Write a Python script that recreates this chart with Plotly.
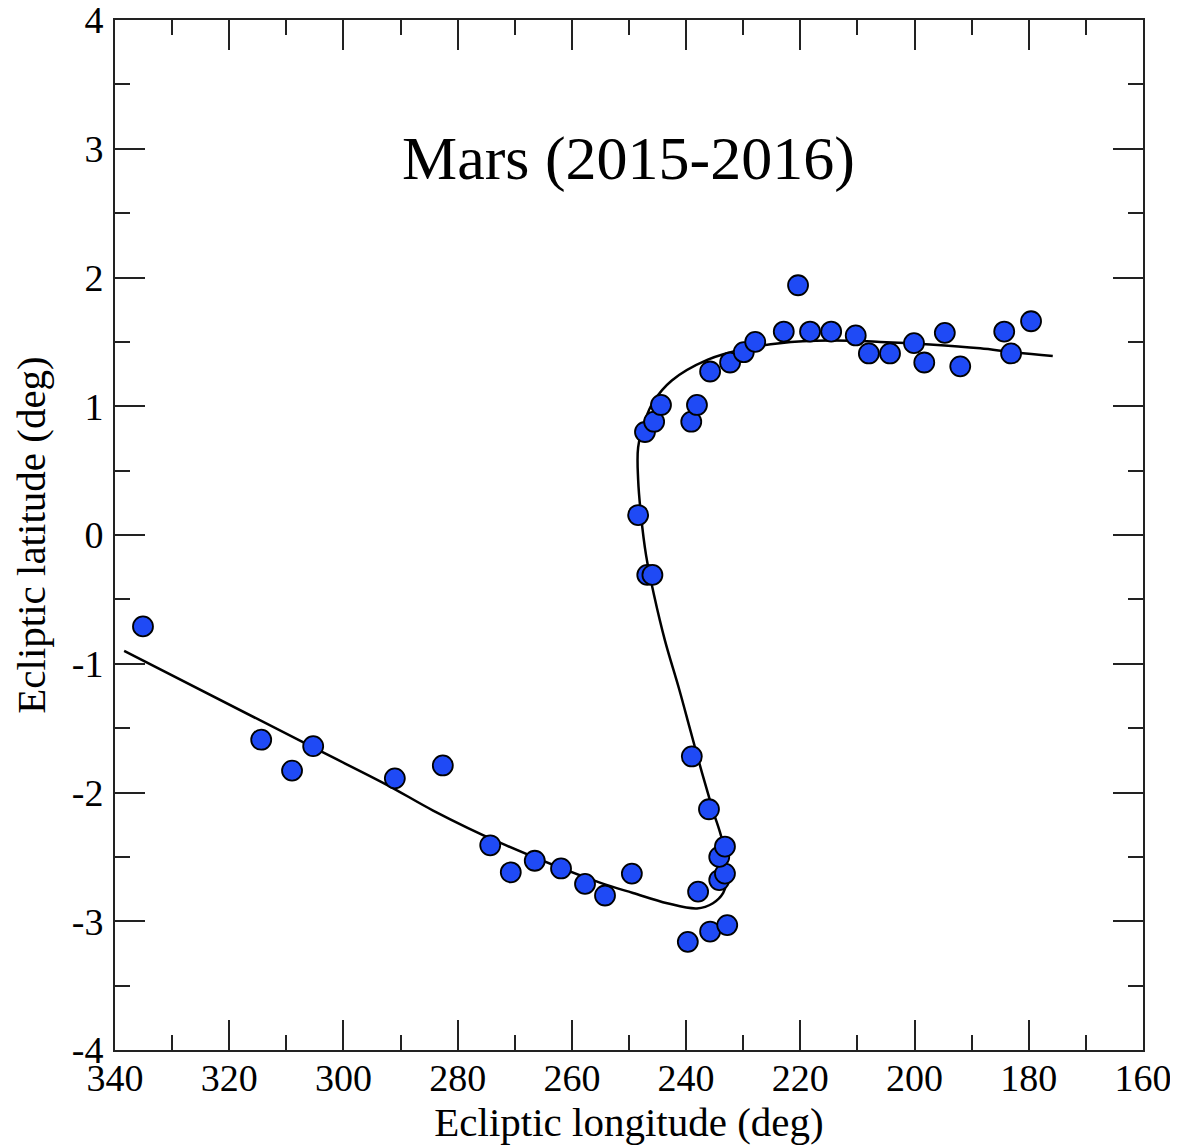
import plotly.graph_objects as go

# Observed positions (deg)
obs_lon = [335.1, 314.4, 309.0, 305.3, 291.0, 282.6, 274.3, 270.7, 266.5, 261.9,
           257.7, 254.2, 249.5, 237.9, 239.7, 235.8, 232.8, 234.2, 233.2, 234.2,
           233.2, 236.0, 239.0, 246.8, 245.9, 248.4, 247.2, 245.6, 244.4, 239.1,
           238.1, 235.8, 232.3, 229.9, 227.9, 222.9, 220.4, 218.3, 214.6, 210.3,
           208.0, 204.3, 200.1, 198.3, 194.7, 192.0, 184.3, 183.1, 179.6]
obs_lat = [-0.71, -1.59, -1.83, -1.64, -1.89, -1.79, -2.41, -2.62, -2.53, -2.59,
           -2.71, -2.80, -2.63, -2.77, -3.16, -3.08, -3.03, -2.68, -2.63, -2.50,
           -2.42, -2.13, -1.72, -0.31, -0.31, 0.155, 0.80, 0.88, 1.01, 0.88,
           1.01, 1.27, 1.34, 1.42, 1.50, 1.58, 1.94, 1.58, 1.58, 1.55,
           1.41, 1.41, 1.49, 1.34, 1.57, 1.31, 1.58, 1.41, 1.66]

# Model track (deg)
fit_lon = [338.4, 305.3, 292.4, 284.3, 272.6, 255.1, 249.3, 243.3, 238.1, 235.3,
           233.5, 233.0, 233.2, 233.7, 235.3, 237.2, 239.3, 241.2, 243.7, 245.6,
           247.0, 247.9, 248.4, 248.4, 247.2, 245.8, 242.5, 236.3, 229.3, 223.6,
           214.8, 206.0, 197.3, 188.5, 182.8, 175.8]
fit_lat = [-0.90, -1.65, -1.94, -2.14, -2.39, -2.70, -2.78, -2.86, -2.90, -2.86,
           -2.78, -2.70, -2.55, -2.37, -2.14, -1.85, -1.51, -1.20, -0.82, -0.47,
           -0.16, 0.155, 0.43, 0.68, 0.89, 1.03, 1.20, 1.36, 1.45, 1.49,
           1.51, 1.50, 1.48, 1.45, 1.42, 1.39]

x_ticks = [340, 320, 300, 280, 260, 240, 220, 200, 180, 160]
y_ticks = [4, 3, 2, 1, 0, -1, -2, -3, -4]

FONT = "Liberation Serif"

fig = go.Figure()
fig.add_trace(go.Scatter(
    x=fit_lon, y=fit_lat, mode="lines",
    line=dict(color="black", width=2.5, shape="spline", smoothing=1.0),
    showlegend=False, hoverinfo="skip"))
fig.add_trace(go.Scatter(
    x=obs_lon, y=obs_lat, mode="markers",
    marker=dict(size=20, color="#1f4af5", line=dict(color="black", width=1.8)),
    showlegend=False))

axis_common = dict(
    showgrid=False, zeroline=False, showline=True, linecolor="#222", linewidth=2,
    mirror="ticks", ticks="inside", ticklen=30, tickwidth=2, tickcolor="#222",
    tickfont=dict(family=FONT, size=38, color="black"), automargin=False,
    ticklabeloverflow="allow",
)

fig.update_xaxes(
    range=[340, 160], tickvals=x_ticks, ticktext=[str(v) for v in x_ticks],
    minor=dict(dtick=10, tick0=0, ticks="inside", ticklen=15, tickwidth=2, tickcolor="#222"),
    ticklabelstandoff=-7,
    title=dict(text="Ecliptic longitude (deg)", font=dict(family=FONT, size=41, color="black"), standoff=4),
    **axis_common)
fig.update_yaxes(
    range=[-4, 4], tickvals=y_ticks, ticktext=[str(v) for v in y_ticks],
    minor=dict(dtick=0.5, tick0=0, ticks="inside", ticklen=15, tickwidth=2, tickcolor="#222"),
    ticklabelstandoff=2,
    title=dict(text="Ecliptic latitude (deg)", font=dict(family=FONT, size=41, color="black"), standoff=14),
    **axis_common)

fig.add_annotation(
    text="Mars (2015-2016)", xref="paper", yref="paper", x=0.4995, y=0.866,
    showarrow=False, font=dict(family=FONT, size=62, color="black"),
    xanchor="center", yanchor="middle")

fig.update_layout(
    width=1170, height=1137,
    margin=dict(l=107, r=35, t=12, b=95),
    plot_bgcolor="white", paper_bgcolor="white",
)

fig.write_html("out.html")
